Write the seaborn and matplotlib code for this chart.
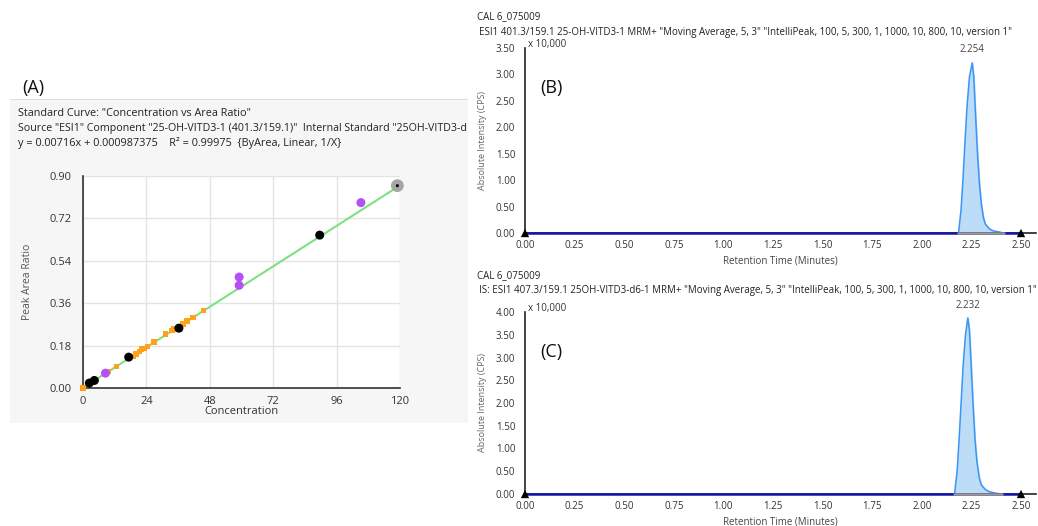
import matplotlib
matplotlib.use("Agg")
import matplotlib.pyplot as plt
from matplotlib.patches import Rectangle
import seaborn as sns
import pandas as pd

# calibration data (panel A)
std_conc = [2.4, 4.3, 17.3, 36.3, 89.6]
std_ratio = [0.021, 0.032, 0.131, 0.254, 0.649]
qc_conc = [0.0, 9.6, 12.6, 18.9, 20.1, 21.3, 22.2, 23.1, 24.3, 26.9, 31.3, 33.7, 34.2, 37.8, 39.4, 41.6, 45.5]
qc_ratio = [0.0, 0.070, 0.092, 0.134, 0.145, 0.155, 0.165, 0.169, 0.176, 0.196, 0.230, 0.244, 0.250, 0.272, 0.284, 0.300, 0.329]
out_conc = [8.5, 59.1, 59.1, 105.2]
out_ratio = [0.063, 0.471, 0.436, 0.787]
sel_conc = [119.0]
sel_ratio = [0.859]
slope, intercept = 0.00716, 0.000987375
fit_x = [0.0, 119.0]

# chromatograms (x 10,000 cps)
b_time = [2.185, 2.198, 2.208, 2.218, 2.228, 2.240, 2.254, 2.262, 2.270, 2.280, 2.290, 2.300, 2.310, 2.320, 2.340, 2.360, 2.390, 2.410]
b_int = [0.00, 0.45, 1.05, 1.75, 2.40, 2.95, 3.22, 2.95, 2.30, 1.55, 0.95, 0.55, 0.30, 0.17, 0.08, 0.04, 0.02, 0.00]
c_time = [2.165, 2.178, 2.188, 2.198, 2.208, 2.220, 2.232, 2.240, 2.248, 2.258, 2.268, 2.278, 2.290, 2.300, 2.320, 2.340, 2.370, 2.400]
c_int = [0.00, 0.50, 1.20, 2.00, 2.80, 3.50, 3.87, 3.60, 2.90, 2.00, 1.20, 0.70, 0.35, 0.20, 0.10, 0.05, 0.02, 0.00]
rt_ticks = [0.00, 0.25, 0.50, 0.75, 1.00, 1.25, 1.50, 1.75, 2.00, 2.25, 2.50]

sns.set_style("white")
plt.rcParams['font.family'] = ['Open Sans', 'DejaVu Sans']

W, H = 1038, 526
fig = plt.figure(figsize=(W / 100, H / 100), dpi=100)


def rect(x0, y0, x1, y1):
    return [x0 / W, 1 - y1 / H, (x1 - x0) / W, (y1 - y0) / H]


def ftext(x, y, s, **kw):
    kw.setdefault("fontsize", 7.5)
    kw.setdefault("color", "#222222")
    fig.text(x / W, 1 - y / H, s, va="center", ha=kw.pop("ha", "left"), **kw)


# ---- panel A ----
fig.patches.append(Rectangle((10 / W, 1 - 423 / H), 458 / W, 323 / H, transform=fig.transFigure,
                             facecolor="#f6f6f6", edgecolor="none", zorder=-2))
fig.patches.append(Rectangle((10 / W, 1 - 100 / H), 458 / W, 0.8 / H, transform=fig.transFigure,
                             facecolor="#dddddd", edgecolor="none", zorder=-1))
ftext(22, 88, "(A)", fontsize=13, color="#111111")
ftext(18, 113, 'Standard Curve: "Concentration vs Area Ratio"', fontsize=7.8)
ftext(18, 128, 'Source "ESI1" Component "25-OH-VITD3-1 (401.3/159.1)"  Internal Standard "25OH-VITD3-d', fontsize=7.7)
ftext(18, 143, 'y = 0.00716x + 0.000987375    R² = 0.99975  {ByArea, Linear, 1/X}', fontsize=7.8)

axA = fig.add_axes(rect(83, 176, 400, 388))
axA.set_facecolor("white")
axA.grid(True, color="#e4e4e4", lw=1)
sns.lineplot(x=fit_x, y=[slope * v + intercept for v in fit_x], ax=axA, color="#7fe07f", lw=1.5, zorder=2)
sns.scatterplot(x=qc_conc, y=qc_ratio, ax=axA, color="#ffa21a", marker="s", s=15, edgecolor="none", zorder=3, clip_on=False)
sns.scatterplot(x=std_conc, y=std_ratio, ax=axA, color="black", s=42, edgecolor="none", zorder=4)
sns.scatterplot(x=out_conc, y=out_ratio, ax=axA, color="#b64ff7", s=42, edgecolor="none", zorder=4)
sns.scatterplot(x=sel_conc, y=sel_ratio, ax=axA, color="#a6a6a6", s=85, edgecolor="none", zorder=4, clip_on=False)
sns.scatterplot(x=sel_conc, y=sel_ratio, ax=axA, color="black", s=5, edgecolor="none", zorder=5, clip_on=False)
axA.set_xlim(0, 120)
axA.set_ylim(0, 0.9)
axA.set_xticks([0, 24, 48, 72, 96, 120])
axA.set_yticks([0.0, 0.18, 0.36, 0.54, 0.72, 0.90])
axA.set_yticklabels(["%.2f" % v for v in [0.0, 0.18, 0.36, 0.54, 0.72, 0.90]])
for s in ["top", "right"]:
    axA.spines[s].set_visible(False)
for s in ["left", "bottom"]:
    axA.spines[s].set_color("#333333")
    axA.spines[s].set_linewidth(1.2)
axA.tick_params(axis="both", length=7, width=1, color="#333333", labelsize=8, labelcolor="#333333", pad=1, direction="out")
axA.tick_params(axis="x", length=5)
axA.set_xlabel("Concentration", fontsize=8, color="#333333", labelpad=-1)
axA.set_ylabel("Peak Area Ratio", fontsize=7.5, color="#555555", labelpad=12)


# ---- chromatograms ----
def chrom(y0, y1, t, inten, ymax, yticks, apex, label, hdr2, ytop):
    ax = fig.add_axes(rect(525, y0, 1036, y1))
    ax.set_facecolor("white")
    ax.fill_between(t, 0, inten, color="#bcdcf8", zorder=1)
    sns.lineplot(x=t, y=inten, ax=ax, color="#3a96f5", lw=1.1, zorder=2, sort=False)
    sns.lineplot(x=[0.0, 2.5], y=[0.0, 0.0], ax=ax, color="#1414a8", lw=1.8, zorder=3)
    sns.lineplot(x=[t[0] - 0.005, t[-1] + 0.005], y=[0.0, 0.0], ax=ax, color="#999999", lw=1.8, zorder=4)
    sns.scatterplot(x=[0.0, 2.5], y=[0.0, 0.0], ax=ax, marker="^", color="black", s=36,
                    edgecolor="none", zorder=5, clip_on=False)
    for line in ax.lines:
        line.set_clip_on(False)
    ax.set_xlim(0, 2.5 + 15 / 198.4)
    ax.set_ylim(0, ymax)
    ax.set_xticks(rt_ticks)
    ax.set_xticklabels(["%.2f" % v for v in rt_ticks])
    ax.set_yticks(yticks)
    ax.set_yticklabels(["%.2f" % v for v in yticks])
    for s in ["top", "right"]:
        ax.spines[s].set_visible(False)
    for s in ["left", "bottom"]:
        ax.spines[s].set_color("#222222")
        ax.spines[s].set_linewidth(1.2)
    ax.tick_params(axis="both", length=4, width=1, color="#222222", labelsize=7, labelcolor="#333333", pad=1, direction="out")
    ax.tick_params(axis="y", length=6)
    ax.set_xlabel("Retention Time (Minutes)", fontsize=7, color="#444444", labelpad=3)
    ax.set_ylabel("Absolute Intensity (CPS)", fontsize=6.5, color="#666666", labelpad=6)
    ax.text(apex, max(inten) + 0.04 * ymax, "%.3f" % apex, fontsize=7, color="#444444", ha="center", va="bottom")
    ftext(477, ytop, "CAL 6_075009", fontsize=7)
    ftext(479, ytop + 15, hdr2, fontsize=7)
    ftext(528, y0 - 3, "x 10,000", fontsize=7, color="#333333")
    ftext(540, y0 + 40, label, fontsize=13, color="#111111")
    return ax


chrom(48, 233, b_time, b_int, 3.5, [0.0, 0.5, 1.0, 1.5, 2.0, 2.5, 3.0, 3.5], 2.254, "(B)",
      'ESI1 401.3/159.1 25-OH-VITD3-1 MRM+ "Moving Average, 5, 3" "IntelliPeak, 100, 5, 300, 1, 1000, 10, 800, 10, version 1"', 17)
chrom(312, 494, c_time, c_int, 4.0, [0.0, 0.5, 1.0, 1.5, 2.0, 2.5, 3.0, 3.5, 4.0], 2.232, "(C)",
      'IS: ESI1 407.3/159.1 25OH-VITD3-d6-1 MRM+ "Moving Average, 5, 3" "IntelliPeak, 100, 5, 300, 1, 1000, 10, 800, 10, version 1"', 276)

fig.savefig("out.png", dpi=100)
